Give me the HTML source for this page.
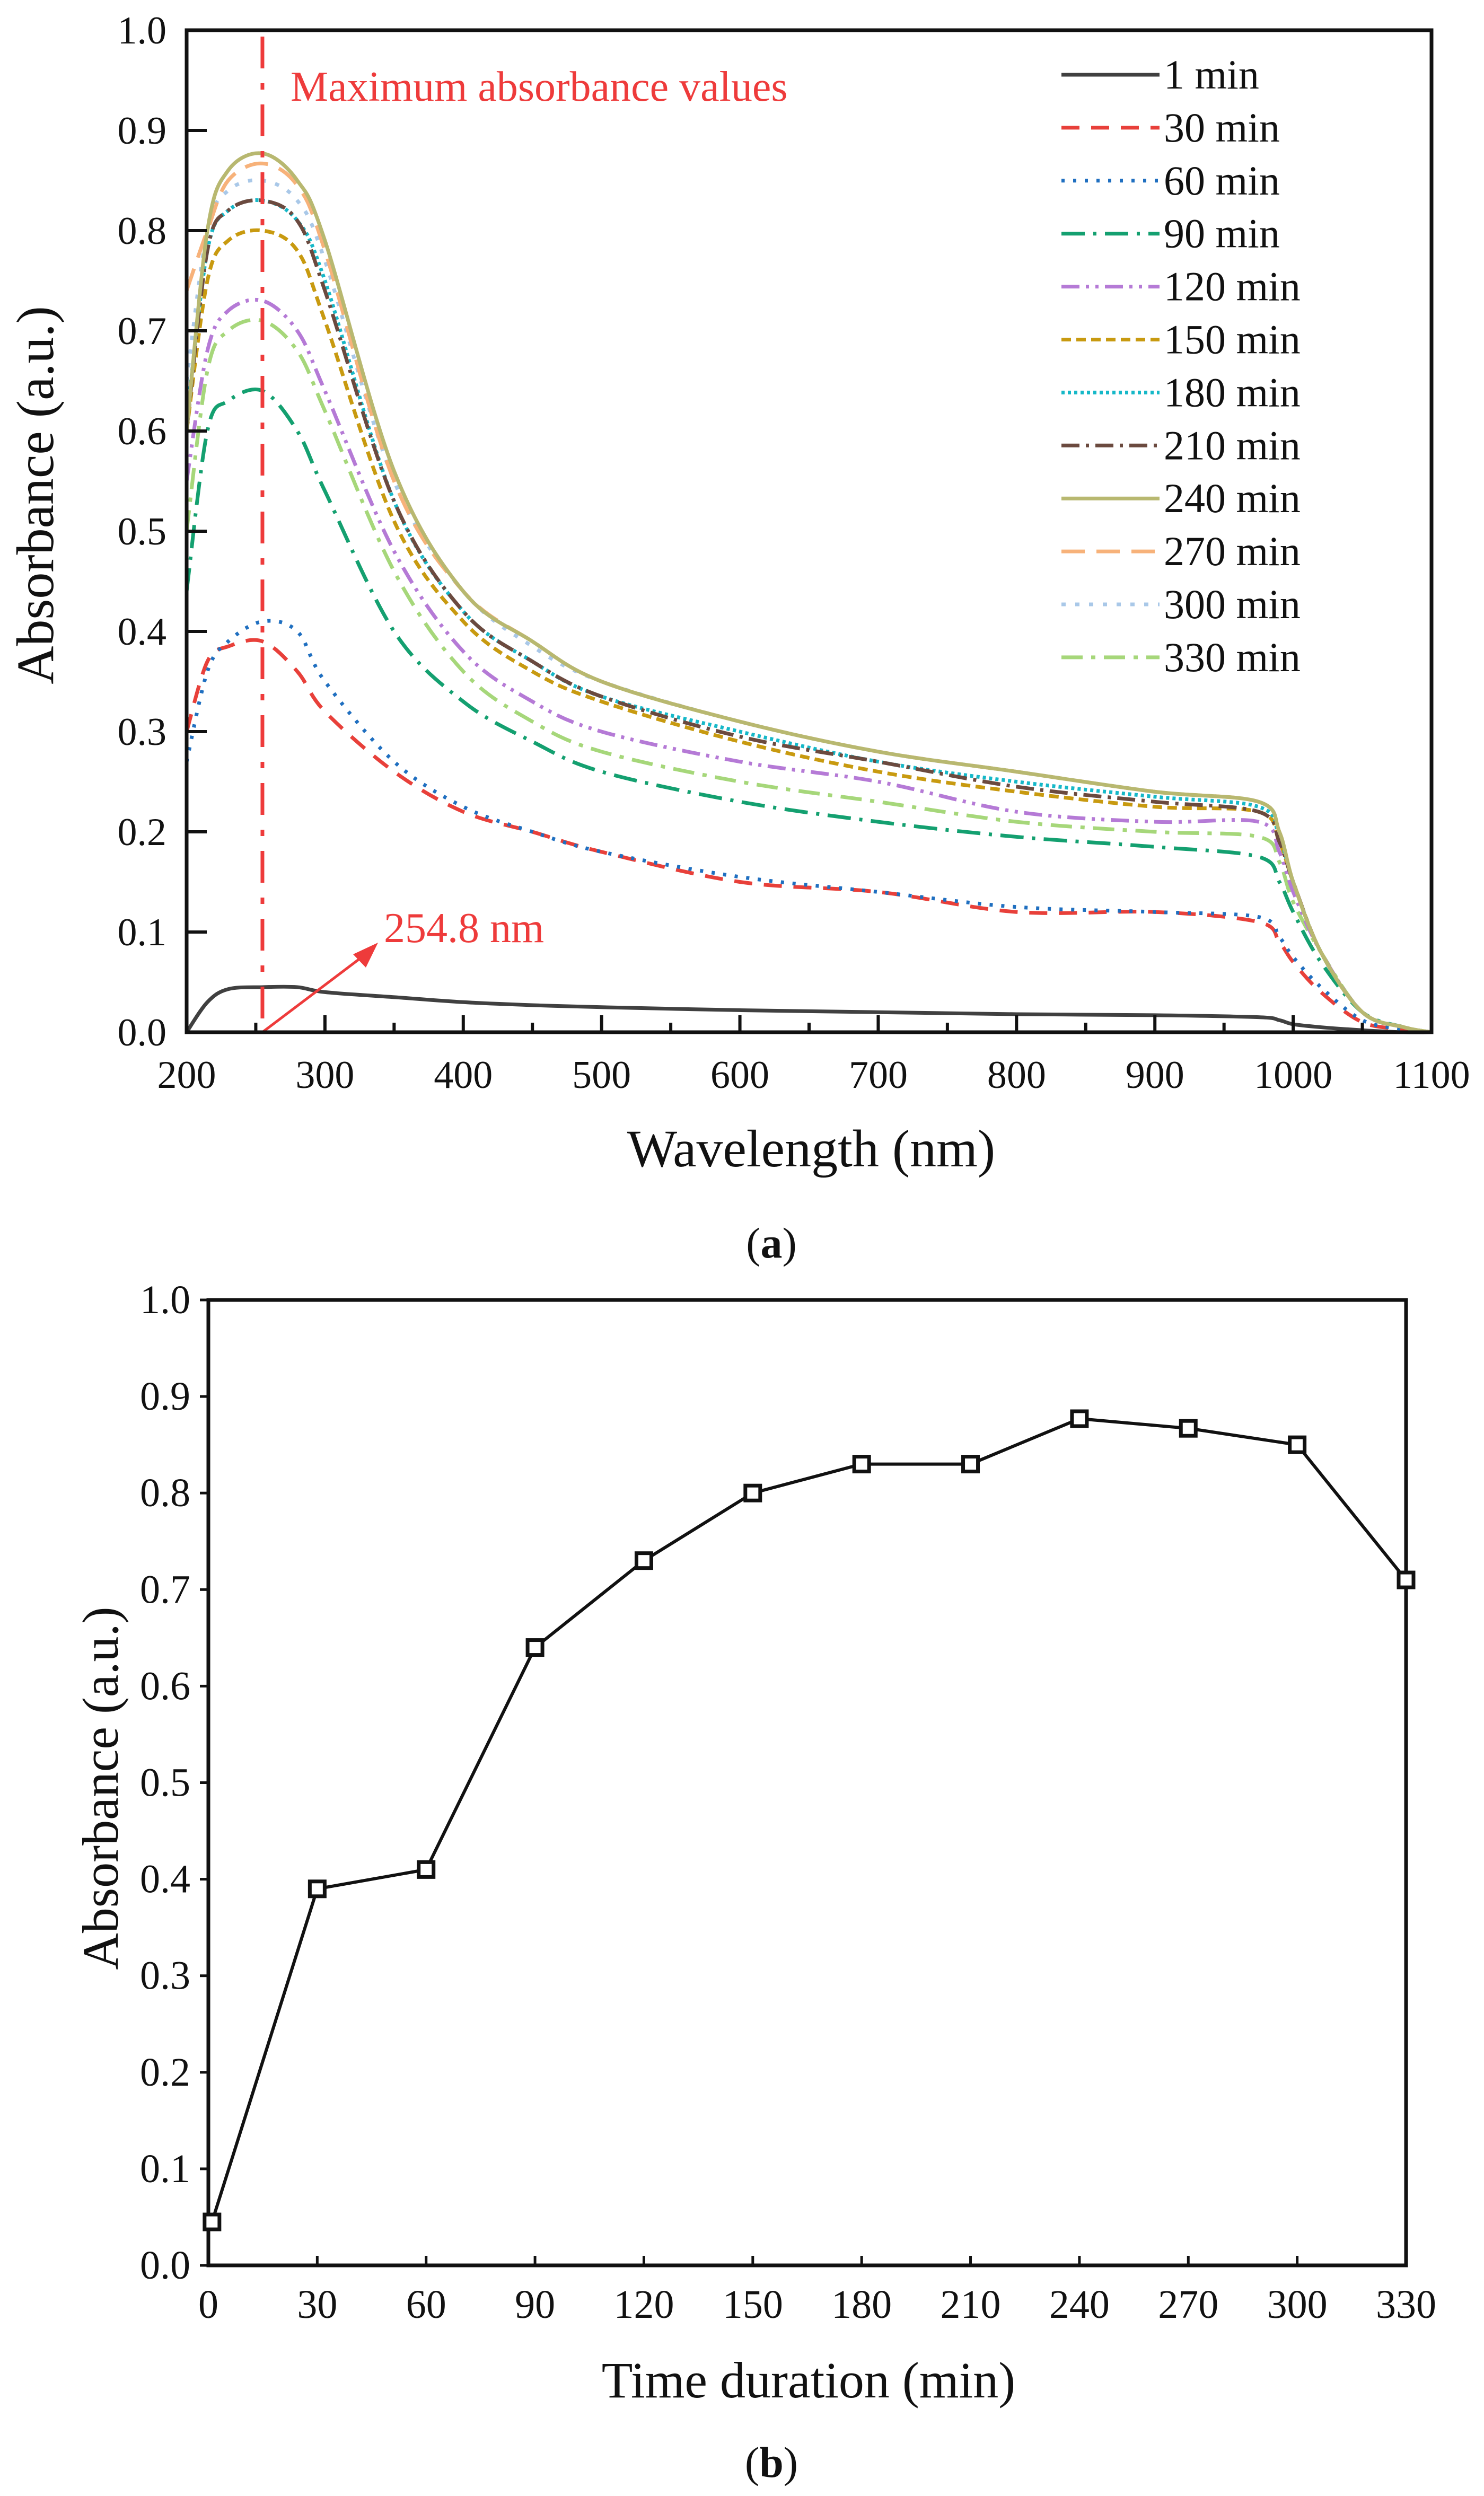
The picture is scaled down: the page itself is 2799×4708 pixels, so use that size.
<!DOCTYPE html>
<html><head><meta charset="utf-8"><style>
html,body{margin:0;padding:0;background:#fff;}
svg{display:block;font-family:"Liberation Serif",serif;}
</style></head><body>
<svg id="fig" xmlns="http://www.w3.org/2000/svg" width="2799" height="4708" viewBox="0 0 2799 4708">
<rect x="0" y="0" width="2799" height="4708" fill="#fff"/>
<g id="chartA"></g>
<g id="chartB"></g>
</svg>
<script>
// ---- Chart (a) data ----
const wavelengths = [200,215,230,255,280,300,350,400,450,500,600,700,800,900,975,990,1000,1020,1050,1080,1100];
const seriesNames = ["1 min","30 min","60 min","90 min","120 min","150 min","180 min","210 min","240 min","270 min","300 min","330 min"];
const s1   = [0.0,0.03,0.043,0.045,0.045,0.04,0.035,0.03,0.027,0.025,0.022,0.02,0.018,0.017,0.015,0.012,0.008,0.005,0.002,0.0,0];
const s30  = [0.30,0.37,0.385,0.39,0.36,0.32,0.26,0.22,0.20,0.18,0.15,0.14,0.12,0.12,0.11,0.09,0.07,0.04,0.01,0.003,0];
const s60  = [0.27,0.36,0.39,0.41,0.40,0.35,0.27,0.225,0.20,0.18,0.155,0.14,0.125,0.12,0.115,0.095,0.075,0.045,0.012,0.003,0];
const s90  = [0.44,0.60,0.63,0.64,0.60,0.54,0.40,0.33,0.29,0.26,0.23,0.21,0.195,0.185,0.175,0.15,0.12,0.07,0.02,0.005,0];
const s120 = [0.55,0.68,0.72,0.73,0.70,0.64,0.48,0.38,0.33,0.30,0.27,0.25,0.22,0.21,0.21,0.18,0.14,0.08,0.02,0.005,0];
const s150 = [0.60,0.75,0.79,0.80,0.78,0.71,0.51,0.41,0.36,0.33,0.29,0.26,0.24,0.225,0.22,0.19,0.15,0.08,0.02,0.005,0];
const s180 = [0.61,0.78,0.82,0.83,0.81,0.75,0.53,0.42,0.37,0.335,0.30,0.27,0.25,0.235,0.225,0.195,0.15,0.08,0.02,0.005,0];
const s210 = [0.60,0.78,0.82,0.83,0.81,0.74,0.53,0.42,0.37,0.335,0.295,0.27,0.245,0.23,0.22,0.19,0.15,0.08,0.02,0.005,0];
const s240 = [0.60,0.80,0.86,0.877,0.85,0.79,0.56,0.44,0.39,0.35,0.31,0.28,0.26,0.24,0.23,0.20,0.15,0.08,0.02,0.005,0];
const s270 = [0.74,0.80,0.85,0.867,0.845,0.78,0.55,0.44,0.39,0.35,0.31,0.28,0.26,0.24,0.23,0.20,0.15,0.08,0.02,0.005,0];
const s300 = [0.65,0.80,0.84,0.85,0.83,0.77,0.55,0.44,0.385,0.35,0.31,0.28,0.26,0.24,0.23,0.20,0.15,0.08,0.02,0.005,0];
const s330 = [0.50,0.66,0.70,0.71,0.68,0.62,0.46,0.36,0.31,0.28,0.25,0.23,0.21,0.20,0.195,0.17,0.13,0.08,0.02,0.005,0];
const xTicksA = [200,300,400,500,600,700,800,900,1000,1100];
const yTicks = [0.0,0.1,0.2,0.3,0.4,0.5,0.6,0.7,0.8,0.9,1.0];
const peakWavelength = 254.8;
// ---- Chart (b) data ----
const times = [1,30,60,90,120,150,180,210,240,270,300,330];
const maxAbs = [0.045,0.39,0.41,0.64,0.73,0.80,0.83,0.83,0.877,0.867,0.85,0.71];
const xTicksB = [0,30,60,90,120,150,180,210,240,270,300,330];

const NS="http://www.w3.org/2000/svg";
function mk(parent,tag,attrs,text){const e=document.createElementNS(NS,tag);for(const k in attrs)e.setAttribute(k,attrs[k]);if(text!==undefined)e.textContent=text;parent.appendChild(e);return e;}

// ===== Chart A =====
const A=document.getElementById('chartA');
const aL=352,aR=2700,aT=57,aB=1947;
const xA=v=>aL+(v-200)/900*(aR-aL);
const yA=v=>aB-v*(aB-aT);
const allSeries=[s1,s30,s60,s90,s120,s150,s180,s210,s240,s270,s300,s330];
const colors=["#404040","#e8403a","#1f6fc0","#14a070","#b57ad6","#c89a10","#16b8c8","#6b4a3f","#b8b870","#f7b27a","#a9c8e8","#a6d77a"];
const dashes=["none","34,22","6,16","44,16,6,16","34,12,6,12,6,12","18,10","6,6","34,12,6,12","none","44,22","8,18","40,16,8,16"];
function smoothPath(xs,ys){let d="M"+xs[0]+","+ys[0];for(let i=0;i<xs.length-1;i++){const x0=xs[Math.max(0,i-1)],y0=ys[Math.max(0,i-1)],x1=xs[i],y1=ys[i],x2=xs[i+1],y2=ys[i+1],x3=xs[Math.min(xs.length-1,i+2)],y3=ys[Math.min(xs.length-1,i+2)];d+=" C"+(x1+(x2-x0)/6)+","+(y1+(y2-y0)/6)+" "+(x2-(x3-x1)/6)+","+(y2-(y3-y1)/6)+" "+x2+","+y2;}return d;}
const order=[0,1,2,3,11,4,5,6,7,10,9,8];
order.forEach(i=>{
  const p=mk(A,'path',{d:smoothPath(wavelengths.map(xA),allSeries[i].map(yA)),fill:'none',stroke:colors[i],'stroke-width':7,'stroke-dasharray':dashes[i]});
  
  
});
const pk=mk(A,'line',{x1:xA(peakWavelength),x2:xA(peakWavelength),y1:aT+12,y2:aB,stroke:'#ee3b3b','stroke-width':7,'stroke-dasharray':'60,28,12,28'});

const pt=mk(A,'text',{x:548,y:190,'font-size':80,fill:'#ee3b3b'},'Maximum absorbance values');

const ar=mk(A,'line',{x1:xA(peakWavelength),y1:aB,x2:700,y2:1792,stroke:'#ee3b3b','stroke-width':5});

const ah=mk(A,'polygon',{points:'713,1778 666,1800 690,1825',fill:'#ee3b3b'});

const at=mk(A,'text',{x:724,y:1777,'font-size':80,fill:'#ee3b3b'},'254.8 nm');

const fa=mk(A,'rect',{x:aL,y:aT,width:aR-aL,height:aB-aT,fill:'none',stroke:'#111','stroke-width':7});

xTicksA.forEach(v=>{
  const t=mk(A,'line',{x1:xA(v),x2:xA(v),y1:aB,y2:aB-32,stroke:'#111','stroke-width':6});
  
  if(v<1100){const m=mk(A,'line',{x1:xA(v+50),x2:xA(v+50),y1:aB,y2:aB-18,stroke:'#111','stroke-width':6});
  }
  const l=mk(A,'text',{x:xA(v),y:2052,'font-size':74,'text-anchor':'middle',fill:'#111'},String(v));
  
});
yTicks.forEach(v=>{
  const t=mk(A,'line',{x1:aL,x2:aL+38,y1:yA(v),y2:yA(v),stroke:'#111','stroke-width':6});
  
  const l=mk(A,'text',{x:314,y:yA(v)+25,'font-size':74,'text-anchor':'end',fill:'#111'},v.toFixed(1));
  
});
const xtA=mk(A,'text',{x:1530,y:2200,'font-size':100,'text-anchor':'middle',fill:'#111'},'Wavelength (nm)');

const ytA=mk(A,'text',{x:0,y:0,'font-size':100,'text-anchor':'middle',fill:'#111',transform:'translate(100,934) rotate(-90)'},'Absorbance (a.u.)');

const capA=mk(A,'text',{x:1455,y:2372,'font-size':82,'text-anchor':'middle',fill:'#111'});

capA.innerHTML='(<tspan font-weight="bold">a</tspan>)';
seriesNames.forEach((n,i)=>{
  const y=141+i*99.9;
  const g=mk(A,'g',{});
  
  mk(g,'line',{x1:2002,x2:2187,y1:y,y2:y,stroke:colors[i],'stroke-width':7,'stroke-dasharray':dashes[i]});
  mk(g,'text',{x:2195,y:y+26,'font-size':78,fill:'#111'},n);
});

// ===== Chart B =====
const B=document.getElementById('chartB');
const bL=393,bR=2652,bT=2452,bB=4273;
const xB=v=>bL+v/330*(bR-bL);
const yB=v=>bB-v*(bB-bT);
const fb=mk(B,'rect',{x:bL,y:bT,width:bR-bL,height:bB-bT,fill:'none',stroke:'#111','stroke-width':7});

xTicksB.forEach(v=>{
  const t=mk(B,'line',{x1:xB(v),x2:xB(v),y1:bB,y2:bB-18,stroke:'#111','stroke-width':5});
  
  const l=mk(B,'text',{x:xB(v),y:4372,'font-size':76,'text-anchor':'middle',fill:'#111'},String(v));
  
});
yTicks.forEach(v=>{
  const t=mk(B,'line',{x1:bL,x2:bL-16,y1:yB(v),y2:yB(v),stroke:'#111','stroke-width':5});
  
  const l=mk(B,'text',{x:359,y:yB(v)+25,'font-size':76,'text-anchor':'end',fill:'#111'},v.toFixed(1));
  
});
const ln=mk(B,'polyline',{points:times.map((t,i)=>xB(t)+','+yB(maxAbs[i])).join(' '),fill:'none',stroke:'#111','stroke-width':6});

times.forEach((t,i)=>{
  const m=mk(B,'rect',{x:xB(t)-14,y:yB(maxAbs[i])-14,width:28,height:28,fill:'#fff',stroke:'#111','stroke-width':7});
  
});
const xtB=mk(B,'text',{x:1525,y:4522,'font-size':96,'text-anchor':'middle',fill:'#111'},'Time duration (min)');

const ytB=mk(B,'text',{x:0,y:0,'font-size':96,'text-anchor':'middle',fill:'#111',transform:'translate(222,3373) rotate(-90)'},'Absorbance (a.u.)');

const capB=mk(B,'text',{x:1455,y:4672,'font-size':82,'text-anchor':'middle',fill:'#111'});

capB.innerHTML='(<tspan font-weight="bold">b</tspan>)';
</script>
</body></html>
